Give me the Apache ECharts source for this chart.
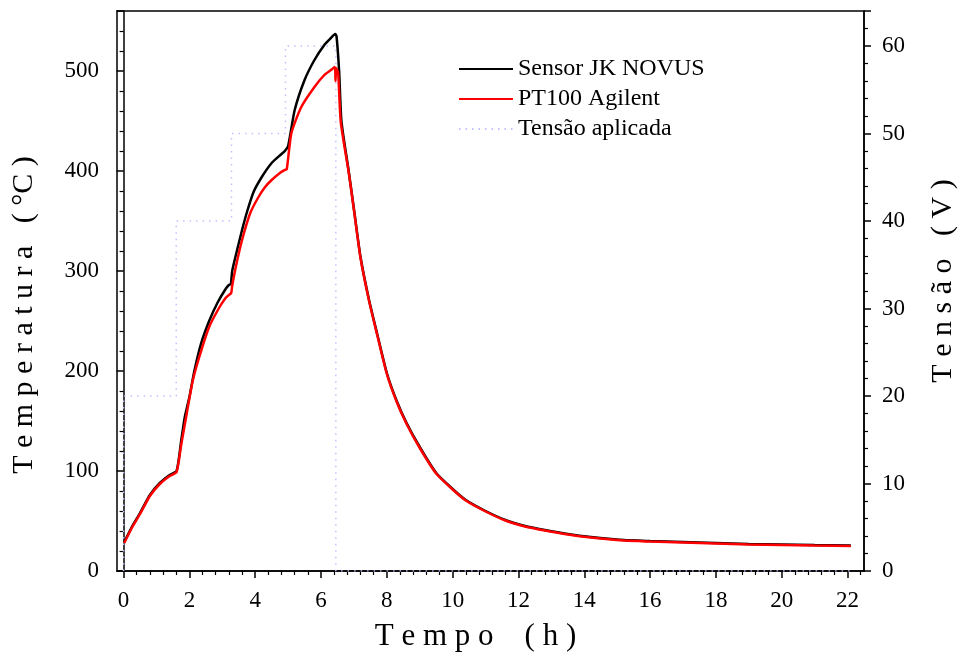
<!DOCTYPE html>
<html>
<head>
<meta charset="utf-8">
<script src="https://cdn.jsdelivr.net/npm/echarts@6/dist/echarts.min.js"></script>
<style>
    html, body { margin: 0; padding: 0; background: #fff; }
    #chart { width: 966px; height: 657px; }
</style>
</head>
<body>
<div id="chart"></div>
<script>
    // Sensor JK NOVUS (black)
    var sensorTime = [0.02, 0.25, 0.5, 0.8, 1.1, 1.4, 1.61, 1.75, 1.86, 2.0, 2.15, 2.35, 2.6, 2.85, 3.1, 3.2, 3.26,
        3.3, 3.45, 3.6, 3.75, 3.95, 4.2, 4.5, 4.8, 4.9, 5.0, 5.2, 5.5, 5.8, 6.1, 6.3, 6.43, 6.47, 6.55, 6.62,
        6.84, 7.0, 7.2, 7.46, 7.7, 8.0, 8.3, 8.6, 9.0, 9.5, 10.0, 10.4, 11.0, 11.6, 12.2, 12.8, 13.5, 14.2,
        15.2, 16.0, 17.0, 18.0, 19.0, 20.0, 21.0, 22.1];
    var sensorTemp = [29, 44, 58, 76, 88, 96, 100, 130, 154, 174, 200, 227, 250, 268, 282, 286, 287,
        300, 321, 341, 359, 379, 394, 408, 417, 420, 425, 461, 491, 511, 526, 533, 537, 535, 500, 450,
        400, 362, 314, 271, 238, 198, 170, 148, 124, 98, 82, 71, 60, 51, 45, 41, 37, 34,
        31, 30, 29, 28, 27, 26.5, 26, 25.5];

    // PT100 Agilent (red)
    var ptTime = [0.02, 0.25, 0.5, 0.8, 1.1, 1.4, 1.61, 1.75, 1.9, 2.1, 2.3, 2.6, 2.9, 3.1, 3.2, 3.27, 3.3,
        3.41, 3.6, 3.85, 4.1, 4.3, 4.5, 4.75, 4.9, 4.96, 5.1, 5.4, 5.8, 6.1, 6.3, 6.42, 6.44, 6.46, 6.52, 6.6,
        6.84, 7.0, 7.2, 7.46, 7.7, 8.0, 8.3, 8.6, 9.0, 9.5, 10.0, 10.4, 11.0, 11.6, 12.2, 12.8, 13.5, 14.2,
        15.2, 16.0, 17.0, 18.0, 19.0, 20.0, 21.0, 22.1];
    var ptTemp = [28, 43, 57, 75, 87, 95, 99, 126, 154, 190, 214, 244, 263, 273, 276, 278, 285,
        304, 331, 358, 374, 384, 391, 398, 401, 402, 438, 464, 484, 496, 501, 504, 490, 503, 498, 449,
        399, 361, 313, 270, 237, 197, 169, 147, 123, 97.5, 81.5, 70.5, 59.5, 50.5, 44.5, 40.5, 36.5, 33.5,
        30.5, 29.5, 28.5, 27.5, 26.5, 26, 25.5, 25];

    // Tensão aplicada (steps)
    var voltTime = [0, 0, 1.6, 1.6, 3.28, 3.28, 4.92, 4.92, 6.45, 6.45, 22.1];
    var voltValue = [0, 20, 20, 40, 40, 50, 50, 60, 60, 0, 0];

    var timeTicks = [0, 2, 4, 6, 8, 10, 12, 14, 16, 18, 20, 22];
    var tempTicks = [0, 100, 200, 300, 400, 500];
    var voltTicks = [0, 10, 20, 30, 40, 50, 60];

    function pairs(xs, ys) {
        var out = [];
        for (var i = 0; i < xs.length; i++) {
            out.push([xs[i], ys[i]]);
        }
        return out;
    }

    var serif = 'Liberation Serif';
    var myChart = echarts.init(document.getElementById('chart'));
    var option = {
        backgroundColor: '#fff',
        animation: false,
        textStyle: { fontFamily: serif, color: '#000' },
        grid: {
            left: 117, right: 93, top: 11, bottom: 86,
            show: true, borderColor: '#000', borderWidth: 1.5
        },
        legend: {
            orient: 'vertical',
            left: 458,
            top: 57,
            padding: 0,
            itemWidth: 54,
            itemHeight: 14,
            itemGap: 6,
            itemStyle: { opacity: 0 },
            textStyle: { fontFamily: serif, fontSize: 24, color: '#000' },
            data: ['Sensor JK NOVUS', 'PT100 Agilent', 'Tensão aplicada']
        },
        xAxis: {
            type: 'value',
            min: -0.2,
            max: 22.5,
            splitNumber: 11,
            name: 'T e m p o    ( h )',
            nameLocation: 'middle',
            nameGap: 50,
            nameTextStyle: { fontFamily: serif, fontSize: 31, color: '#000', padding: [0, 30, 0, 0] },
            axisLine: { lineStyle: { color: '#000', width: 1.5 } },
            axisTick: { inside: false, length: 7, customValues: timeTicks, lineStyle: { color: '#000', width: 1.5 } },
            minorTick: { show: true, splitNumber: 5, length: 4, lineStyle: { color: '#000', width: 1.2 } },
            axisLabel: { customValues: timeTicks, margin: 18, fontSize: 23, fontFamily: serif, color: '#000' },
            splitLine: { show: false }
        },
        yAxis: [{
            type: 'value',
            min: 0,
            max: 560,
            interval: 100,
            name: 'T e m p e r a t u r a   ( °C )',
            nameLocation: 'middle',
            nameRotate: 90,
            nameGap: 78,
            nameTextStyle: { fontFamily: serif, fontSize: 30, color: '#000', padding: [0, 48, 0, 0] },
            axisLine: { show: true, lineStyle: { color: '#000', width: 1.5 } },
            axisTick: { inside: false, length: 7, lineStyle: { color: '#000', width: 1.5 } },
            minorTick: { show: true, splitNumber: 5, length: 4, lineStyle: { color: '#000', width: 1.2 } },
            axisLabel: { customValues: tempTicks, margin: 18, fontSize: 23, fontFamily: serif, color: '#000' },
            splitLine: { show: false }
        }, {
            type: 'value',
            position: 'right',
            min: 0,
            max: 64,
            interval: 10,
            name: 'T e n s ã o   ( V )',
            nameLocation: 'middle',
            nameRotate: 90,
            nameGap: 64,
            nameTextStyle: { fontFamily: serif, fontSize: 30, color: '#000', padding: [0, 0, 0, 20] },
            axisLine: { show: true, lineStyle: { color: '#000', width: 1.5 } },
            axisTick: { inside: false, length: 7, lineStyle: { color: '#000', width: 1.5 } },
            minorTick: { show: true, splitNumber: 5, length: 4, lineStyle: { color: '#000', width: 1.2 } },
            axisLabel: { customValues: voltTicks, margin: 18, fontSize: 23, fontFamily: serif, color: '#000' },
            splitLine: { show: false }
        }],
        series: [
            {
                name: 'Sensor JK NOVUS',
                type: 'line',
                yAxisIndex: 0,
                symbol: 'none',
                smooth: 0.2,
                z: 3,
                lineStyle: { color: '#000', width: 2.5 },
                itemStyle: { color: '#000' },
                data: pairs(sensorTime, sensorTemp)
            },
            {
                name: 'PT100 Agilent',
                type: 'line',
                yAxisIndex: 0,
                symbol: 'none',
                smooth: 0.2,
                z: 4,
                lineStyle: { color: '#ff0000', width: 2.5 },
                itemStyle: { color: '#ff0000' },
                data: pairs(ptTime, ptTemp)
            },
            {
                name: 'Tensão aplicada',
                type: 'line',
                yAxisIndex: 1,
                symbol: 'none',
                z: 1,
                lineStyle: { color: '#c0c0ff', width: 1.5, type: [1.5, 5] },
                itemStyle: { color: '#c0c0ff' },
                data: pairs(voltTime, voltValue)
            }
        ]
    };
    myChart.setOption(option, true);
    window.addEventListener('resize', function () {
        myChart.resize();
    });
</script>
</body>
</html>
